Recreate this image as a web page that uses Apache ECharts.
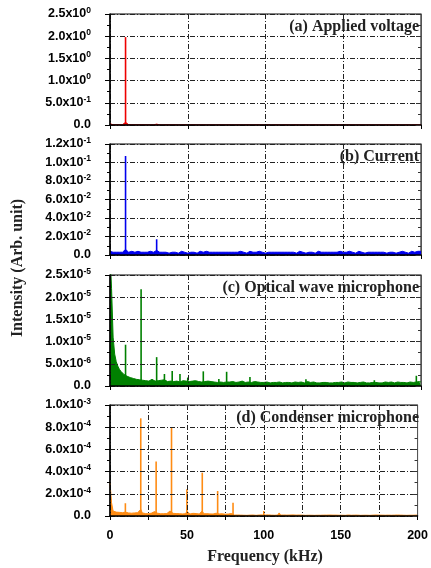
<!DOCTYPE html>
<html><head><meta charset="utf-8">
<script src="https://cdn.jsdelivr.net/npm/echarts@6/dist/echarts.min.js"></script>
<style>html,body{margin:0;padding:0;background:#fff}#c{width:431px;height:568px}</style>
</head><body><div id="c"></div>
<script>
// frequency grid of the spectra (kHz)
const freqKHz = Array.from({length: 201}, (_, i) => i);

// (a) applied voltage: noise floor, x1e-3
const noiseA_e3 = [30,6,4,3,3,3,4,5,8,45,60,40,8,5,4,3,3,3,3,4,
6,4,3,3,3,3,3,3,3,5,20,5,3,3,2,3,3,2,3,3,
3,2,3,3,2,3,3,2,3,3,2,3,3,2,3,3,2,3,3,2,
3,3,2,3,3,2,3,3,2,3,3,2,3,3,2,3,3,2,3,3,
2,3,3,2,3,3,2,3,3,2,3,3,2,3,3,2,3,3,2,3,
3,2,3,3,2,3,3,2,3,3,2,3,3,2,3,3,2,3,3,2,
3,3,2,3,3,2,3,3,2,3,3,2,3,3,2,3,3,2,3,3,
2,3,3,2,3,3,2,3,3,2,3,3,2,3,3,2,3,3,2,3,
3,2,3,3,2,3,3,2,3,3,2,3,3,2,3,3,2,3,3,2,
3,3,2,3,3,2,3,3,2,3,3,2,3,3,2,3,3,2,3,3,3];
const peaksA = [[10, 1.98], [30, 0.02]];

// (b) current: noise floor, x1e-3
const noiseB_e3 = [4,3,3,4,3,2,3,4,3,5,
6,5,3,3,4,2,3,3,4,3, 3,4,3,2,3,3,4,3,3,4, 5,3,3,2,3,4,3,3,2,3,
3,4,3,3,2,3,4,3,3,3, 2,3,3,4,3,3,2,3,4,3, 3,3,4,2,3,3,3,4,3,2,
3,4,3,3,3,2,3,4,3,3, 3,2,3,3,4,3,3,3,2,3, 4,3,3,2,3,3,4,3,3,3,
2,3,3,4,3,3,3,2,3,4, 3,3,3,2,3,4,3,3,3,3, 2,3,4,3,3,3,2,3,3,4,
3,3,2,3,4,3,3,3,3,2, 3,4,3,3,3,2,3,3,4,3, 3,2,3,3,4,3,3,3,2,3,
4,3,3,3,2,3,3,4,3,3, 3,2,3,4,3,3,3,3,2,3, 3,4,3,3,2,3,3,3,4,3,
3,3,2,3,4,3,3,3,4,3, 4];
const peaksB = [[10, 0.107], [30, 0.017]];

// (c) optical wave microphone: noise floor, x1e-7
const noiseC_e7 = [300,220,110,72,55,45,38,33,29,26,
24,22,25,19,21,17,20,15,18,14, 16,13,15,12,14,11,13,15,12,11,
14,12,10,13,11,14,12,10,13,11, 12,10,12,11,13,9,11,12,10,11,
12,10,9,11,10,12,9,10,11,9, 12,10,8,11,9,10,12,9,10,8,
11,9,10,8,11,9,10,9,8,10, 9,8,10,9,8,11,9,8,10,9,
11,8,9,10,8,9,10,8,9,8, 10,9,8,7,9,8,10,8,7,9,
8,7,9,8,7,8,9,7,8,9, 7,8,7,9,8,7,8,10,7,8,
7,9,8,7,8,7,9,8,7,8, 9,7,8,7,9,8,7,8,7,9,
8,7,8,9,7,8,7,8,9,7, 8,8,7,9,8,7,8,7,9,8,
7,8,9,7,8,7,8,9,7,8, 7,9,8,7,8,9,7,8,7,8,
9,7,8,9,7,8,7,9,8,10, 9];
const peaksC = [[10, 9.3e-6], [20, 2.18e-5], [30, 6.5e-6], [35, 2.7e-6], [40, 3.4e-6],
  [45, 2.7e-6], [50, 1.9e-6], [60, 3.3e-6], [70, 1.6e-6], [75, 3.2e-6], [90, 2.0e-6],
  [126, 1.5e-6], [170, 1.3e-6], [197, 2.3e-6]];

// (d) condenser microphone: noise floor, x1e-6
const noiseD_e6 = [300,120,45,38,35,40,33,36,30,38,
35,32,28,30,25,33,28,26,30,42, 60,28,24,22,25,20,23,26,21,40,
45,25,22,20,24,21,23,22,19,45, 60,24,20,22,26,21,23,19,22,20,
40,22,18,21,24,19,22,20,18,35, 45,20,18,21,17,19,22,18,20,25,
35,19,17,20,18,16,19,18,17,22, 30,8,7,9,6,8,10,7,8,6,
9,8,7,9,8,6,7,9,8,10, 15,9,8,10,7,8,25,7,10,8,
28,8,7,9,6,8,7,9,8,10, 7,8,6,9,7,8,7,6,8,7,
9,7,8,6,9,7,8,7,6,8, 7,8,7,9,6,8,7,8,6,7,
9,7,8,6,7,9,8,7,6,8, 7,8,7,6,8,7,9,7,8,6,
12,8,7,9,6,8,7,8,9,7, 10,8,11,7,6,8,7,9,7,8,
6,7,8,6,9,7,8,7,6,8, 9];
const peaksD = [[10, 1.15e-4], [20, 8.8e-4], [30, 4.9e-4], [40, 7.95e-4], [50, 2.4e-4],
  [60, 3.9e-4], [70, 2.25e-4], [80, 1.2e-4], [100, 4.5e-5]];

// y tick labels
const yTicksA = ['0.0','5.0x10^-1','1.0x10^0','1.5x10^0','2.0x10^0','2.5x10^0'];
const yTicksB = ['0.0','2.0x10^-2','4.0x10^-2','6.0x10^-2','8.0x10^-2','1.0x10^-1','1.2x10^-1'];
const yTicksC = ['0.0','5.0x10^-6','1.0x10^-5','1.5x10^-5','2.0x10^-5','2.5x10^-5'];
const yTicksD = ['0.0','2.0x10^-4','4.0x10^-4','6.0x10^-4','8.0x10^-4','1.0x10^-3'];
const xTicks = ['0','50','100','150','200'];

const titles = ['(a) Applied voltage','(b) Current','(c) Optical wave microphone','(d) Condenser microphone'];
const colors = ['#ee0000','#0000ee','#008000','#ff8c14'];

const panels = [
  {noise: noiseA_e3, scale: 1e-3, peaks: peaksA, max: 2.5, step: 0.5, labels: yTicksA, top: 14},
  {noise: noiseB_e3, scale: 1e-3, peaks: peaksB, max: 0.12, step: 0.02, labels: yTicksB, top: 144},
  {noise: noiseC_e7, scale: 1e-7, peaks: peaksC, max: 2.5e-5, step: 5e-6, labels: yTicksC, top: 275},
  {noise: noiseD_e6, scale: 1e-6, peaks: peaksD, max: 1e-3, step: 2e-4, labels: yTicksD, top: 405}
];
const H = 111, LEFT = 110, W = 311;

function fmtY(labels) {
  return function (v, i) {
    const s = labels[i];
    if (s === undefined) return '';
    const parts = s.split('^');
    return parts.length === 1 ? '{b|' + parts[0] + '}' : '{b|' + parts[0] + '}{s|' + parts[1] + '}';
  };
}
const richY = {
  b: {fontSize: 12.5, fontWeight: 'bold', fontFamily: 'Liberation Sans', color: '#000', lineHeight: 16},
  s: {fontSize: 8.5, fontWeight: 'bold', fontFamily: 'Liberation Sans', color: '#000', verticalAlign: 'top', lineHeight: 16, padding: [0, 0, 6, 0]}
};
const gridDash = [5, 2, 1, 2];

const grid = [], xAxis = [], yAxis = [], series = [], graphic = [];
panels.forEach((p, k) => {
  grid.push({left: LEFT, width: W, top: p.top, height: H, show: true, borderColor: '#000', borderWidth: 1, backgroundColor: 'transparent'});
  const last = k === panels.length - 1;
  xAxis.push({
    type: 'value', gridIndex: k, min: 0, max: 200, interval: last ? 25 : 50, z: 5,
    axisLine: {lineStyle: {color: '#000', width: 1.5}},
    axisTick: {show: true, inside: false, length: 4, lineStyle: {color: '#000'}},
    axisLabel: {show: last, margin: 13, fontSize: 12.5, fontWeight: 'bold', fontFamily: 'Liberation Sans', color: '#000',
      formatter: v => (v % 50 === 0 ? xTicks[v / 50] : '')},
    splitLine: {show: true, lineStyle: {color: '#222', type: gridDash, width: 1}}
  });
  yAxis.push({
    type: 'value', gridIndex: k, min: 0, max: p.max, interval: p.step, position: 'left', z: 5,
    axisLine: {show: true, lineStyle: {color: '#000', width: 1.5}},
    axisTick: {show: true, inside: false, length: 5, lineStyle: {color: '#000'}},
    minorTick: {show: true, splitNumber: 2, length: 3, lineStyle: {color: '#000'}},
    axisLabel: {margin: 19, formatter: fmtY(p.labels), rich: richY},
    splitLine: {show: true, lineStyle: {color: '#222', type: gridDash, width: 1}}
  });
  yAxis.push({
    type: 'value', gridIndex: k, min: 0, max: p.max, interval: p.step, position: 'right', z: 5,
    axisLine: {show: true, lineStyle: {color: '#555', width: 1}},
    axisTick: {show: true, inside: true, length: 5, lineStyle: {color: '#333'}},
    minorTick: {show: true, splitNumber: 2, length: 3, lineStyle: {color: '#333'}},
    axisLabel: {show: false}, splitLine: {show: false}
  });
  series.push({
    type: 'line', xAxisIndex: k, yAxisIndex: 2 * k, symbol: 'none', animation: false, clip: true, z: 2,
    data: p.noise.map((v, i) => [freqKHz[i], v * p.scale]),
    lineStyle: {color: colors[k], width: 1}, areaStyle: {color: colors[k], opacity: 1}
  });
  series.push({
    type: 'bar', xAxisIndex: k, yAxisIndex: 2 * k, barWidth: 1.6, animation: false, z: 3,
    data: p.peaks, itemStyle: {color: colors[k]}
  });
  graphic.push({type: 'text', right: 12, top: p.top + 5, z: 10,
    style: {text: titles[k], font: 'bold 16px "Liberation Serif"', fill: '#222'}});
});
graphic.push({type: 'text', x: 18, y: 268, rotation: Math.PI / 2, z: 10,
  style: {text: 'Intensity (Arb. unit)', font: 'bold 16px "Liberation Serif"', fill: '#222', align: 'center', verticalAlign: 'middle'}});
graphic.push({type: 'text', x: 265, y: 557, z: 10,
  style: {text: 'Frequency (kHz)', font: 'bold 16px "Liberation Serif"', fill: '#222', align: 'center', verticalAlign: 'middle'}});

const chart = echarts.init(document.getElementById('c'), null, {renderer: 'canvas'});
chart.setOption({animation: false, grid, xAxis, yAxis, series, graphic});
</script>
</body></html>
